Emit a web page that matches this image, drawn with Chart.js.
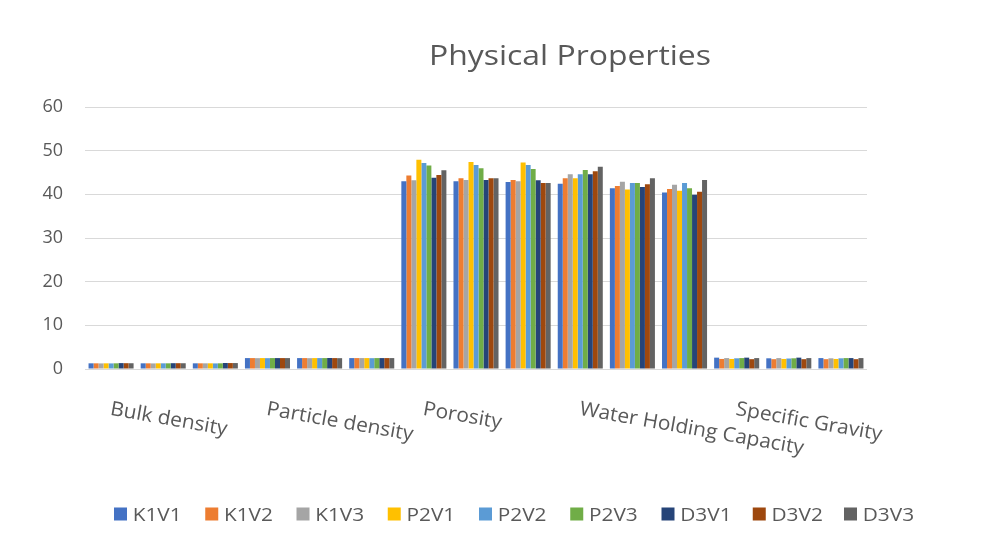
<!DOCTYPE html>
<html><head><meta charset="utf-8">
<script src="https://cdn.jsdelivr.net/npm/chart.js@4.4.0/dist/chart.umd.min.js"></script>
<style>html,body{margin:0;padding:0;background:#fff}#wrap{width:1000px;height:548px;position:relative}</style>
</head><body><div id="wrap"><canvas id="c"></canvas></div>
<script>
const chartTitle = 'Physical Properties';
const categories = ['Bulk density','','','Particle density','','','Porosity','','','Water Holding Capacity','','','Specific Gravity','',''];
const seriesNames = ['K1V1','K1V2','K1V3','P2V1','P2V2','P2V3','D3V1','D3V2','D3V3'];
const seriesColors = ['#4472C4','#ED7D31','#A5A5A5','#FFC000','#5B9BD5','#70AD47','#264478','#9E480E','#636363'];
const yTicks = [0,10,20,30,40,50,60];

const K1V1 = [1.30,1.30,1.30, 2.50,2.50,2.50, 43.0,43.0,42.8, 42.4,41.4,40.4, 2.60,2.45,2.50];
const K1V2 = [1.30,1.30,1.30, 2.50,2.50,2.50, 44.3,43.7,43.3, 43.7,41.9,41.2, 2.30,2.25,2.25];
const K1V3 = [1.28,1.28,1.30, 2.48,2.48,2.50, 43.2,43.3,43.0, 44.6,42.9,42.2, 2.50,2.50,2.45];
const P2V1 = [1.30,1.30,1.30, 2.50,2.50,2.50, 47.9,47.4,47.3, 43.7,41.1,40.8, 2.30,2.30,2.30];
const P2V2 = [1.28,1.30,1.28, 2.48,2.50,2.48, 47.2,46.7,46.7, 44.6,42.6,42.6, 2.45,2.40,2.45];
const P2V3 = [1.30,1.30,1.30, 2.50,2.50,2.50, 46.6,46.0,45.8, 45.6,42.6,41.4, 2.50,2.45,2.50];
const D3V1 = [1.35,1.33,1.38, 2.50,2.52,2.50, 43.8,43.3,43.2, 44.6,41.7,39.9, 2.60,2.60,2.50];
const D3V2 = [1.33,1.33,1.36, 2.50,2.50,2.50, 44.4,43.7,42.6, 45.3,42.3,40.6, 2.25,2.25,2.25];
const D3V3 = [1.32,1.32,1.36, 2.50,2.48,2.50, 45.5,43.7,42.6, 46.3,43.7,43.3, 2.50,2.50,2.50];
const seriesValues = [K1V1,K1V2,K1V3,P2V1,P2V2,P2V3,D3V1,D3V2,D3V3];

const TEXT = '#595959';
const FONT = '"Open Sans"';

function stretchFactor(ctx, text, targetW){
  return targetW / ctx.measureText(text).width;
}

const customText = {
  id: 'customText',
  afterDraw(chart){
    const ctx = chart.ctx;
    // Title
    ctx.save();
    ctx.fillStyle = TEXT;
    ctx.font = '27px ' + FONT;
    ctx.textBaseline = 'alphabetic';
    ctx.textAlign = 'left';
    let sx = stretchFactor(ctx, chartTitle, 282);
    const tw = ctx.measureText(chartTitle).width * sx;
    ctx.translate(570 - tw/2, 65);
    ctx.scale(sx, 1);
    ctx.fillText(chartTitle, 0, 0);
    ctx.restore();

    // Category labels (rotated)
    const xs = chart.scales.x;
    ctx.save();
    ctx.fillStyle = TEXT;
    ctx.font = '20px ' + FONT;
    ctx.textAlign = 'left';
    ctx.textBaseline = 'alphabetic';
    const lsx = stretchFactor(ctx, 'Bulk density', 118.5);
    categories.forEach((c, i) => {
      if (!c) return;
      const x = xs.getPixelForValue(i) + 1;
      ctx.save();
      ctx.translate(x, 400);
      ctx.rotate(10 * Math.PI / 180);
      ctx.scale(lsx, 1);
      ctx.fillText(c, 0, 15);
      ctx.restore();
    });
    ctx.restore();

    // Legend
    ctx.save();
    ctx.font = '18px ' + FONT;
    ctx.textBaseline = 'alphabetic';
    ctx.textAlign = 'left';
    const gsx = stretchFactor(ctx, 'K1V1', 49);
    chart.data.datasets.forEach((ds, i) => {
      const bx = 114 + i * 91.25;
      ctx.fillStyle = ds.backgroundColor;
      ctx.fillRect(bx, 507.5, 13, 13);
      ctx.save();
      ctx.fillStyle = TEXT;
      ctx.translate(bx + 18.7, 520.5);
      ctx.scale(gsx, 1);
      ctx.fillText(ds.label, 0, 0);
      ctx.restore();
    });
    ctx.restore();
  }
};

new Chart(document.getElementById('c'), {
  type: 'bar',
  data: {
    labels: categories,
    datasets: seriesNames.map((n, i) => ({
      label: n,
      data: seriesValues[i],
      backgroundColor: seriesColors[i],
      borderWidth: 0,
      categoryPercentage: 0.864,
      barPercentage: 1.0
    }))
  },
  options: {
    responsive: true,
    maintainAspectRatio: false,
    animation: false,
    layout: { padding: { left: 0, right: 133, top: 107, bottom: 0 } },
    plugins: { legend: { display: false }, title: { display: false }, tooltip: { enabled: false } },
    scales: {
      x: {
        ticks: { display: false },
        grid: { display: false },
        border: { display: false },
        afterFit: s => { s.height = 179; }
      },
      y: {
        min: 0, max: 60,
        afterBuildTicks: s => { s.ticks = yTicks.map(v => ({ value: v })); },
        ticks: { color: TEXT, font: { family: 'Open Sans', size: 18 }, padding: 22 },
        grid: { color: '#d9d9d9', lineWidth: 1, drawTicks: false },
        border: { display: false },
        afterFit: s => { s.width = 85; }
      }
    }
  },
  plugins: [customText]
});
</script>
</body></html>
